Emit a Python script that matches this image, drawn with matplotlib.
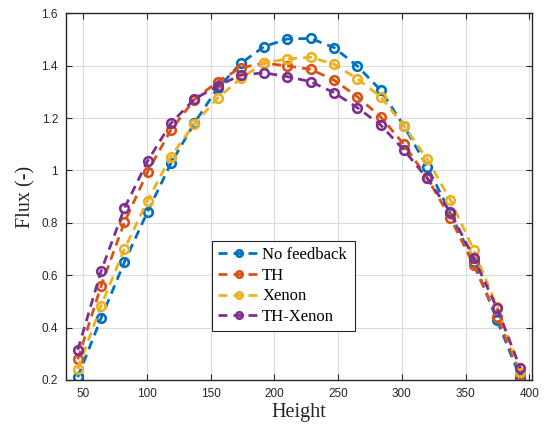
import numpy as np
import matplotlib.pyplot as plt

# data
height = [45.7, 64.0, 82.3, 100.5, 118.8, 137.1, 155.4, 173.7, 191.9, 210.2,
          228.5, 246.8, 265.0, 283.3, 301.6, 319.9, 338.2, 356.4, 374.7, 393.0]
no_feedback = [0.211, 0.436, 0.650, 0.843, 1.027, 1.180, 1.314, 1.409, 1.473, 1.502,
               1.504, 1.469, 1.399, 1.307, 1.170, 1.015, 0.836, 0.652, 0.429, 0.209]
th = [0.279, 0.559, 0.802, 0.995, 1.155, 1.270, 1.339, 1.392, 1.410, 1.399,
      1.386, 1.345, 1.282, 1.205, 1.100, 0.972, 0.818, 0.639, 0.442, 0.222]
xenon = [0.242, 0.484, 0.700, 0.885, 1.053, 1.177, 1.276, 1.352, 1.411, 1.426,
         1.432, 1.406, 1.350, 1.282, 1.171, 1.043, 0.886, 0.697, 0.480, 0.232]
th_xenon = [0.315, 0.616, 0.856, 1.036, 1.180, 1.272, 1.323, 1.364, 1.373, 1.358,
            1.339, 1.297, 1.240, 1.174, 1.078, 0.970, 0.840, 0.667, 0.474, 0.245]

labels = ['No feedback', 'TH', 'Xenon', 'TH-Xenon']
series = [no_feedback, th, xenon, th_xenon]
colors = ['#0072BD', '#D95319', '#EDB120', '#7E2F8E']

fig = plt.figure(figsize=(5.45, 4.32), dpi=100)
ax = fig.add_axes([66.3 / 545, 1 - 380 / 432, (532.3 - 66.3) / 545, (380 - 13.3) / 432])

for lab, ys, c in zip(labels, series, colors):
    ax.plot(height, ys, linestyle=(0, (3.2, 2.2)), linewidth=2, color=c,
            marker='o', markersize=6.2, markerfacecolor='none',
            markeredgewidth=1.9, label=lab)

ax.set_xlim(36.7, 402.4)
ax.set_ylim(0.2, 1.6)
ax.set_xticks(np.arange(50, 401, 50))
ax.set_yticks([0.2, 0.4, 0.6, 0.8, 1.0, 1.2, 1.4, 1.6])
ax.set_yticklabels(['0.2', '0.4', '0.6', '0.8', '1', '1.2', '1.4', '1.6'])
ax.grid(True, color='#dcdcdc', linewidth=0.8)
ax.set_axisbelow(True)
ax.tick_params(direction='in', top=True, right=True, labelsize=8.5,
               colors='#262626', length=4, pad=6)
for lbl in ax.get_xticklabels() + ax.get_yticklabels():
    lbl.set_fontfamily('Liberation Sans')
    lbl.set_color('#262626')
for s in ax.spines.values():
    s.set_color('#262626')
    s.set_linewidth(1)

ax.set_xlabel('Height', fontfamily='Liberation Serif', fontsize=14.5, color='#262626',
              labelpad=2)
ax.set_ylabel('Flux (-)', fontfamily='Liberation Serif', fontsize=14.5, color='#262626',
              labelpad=4)

leg = ax.legend(loc='lower left', bbox_to_anchor=(0.313, 0.134, 0.307, 0.239),
                mode='expand', prop={'family': 'Liberation Serif', 'size': 12},
                fancybox=False, framealpha=1, edgecolor='#262626',
                handlelength=2.5, borderaxespad=0, labelspacing=0.28,
                borderpad=0.35, handletextpad=0.15, markerscale=0.75)
leg.get_frame().set_linewidth(0.8)

fig.savefig('out.png', dpi=100)
